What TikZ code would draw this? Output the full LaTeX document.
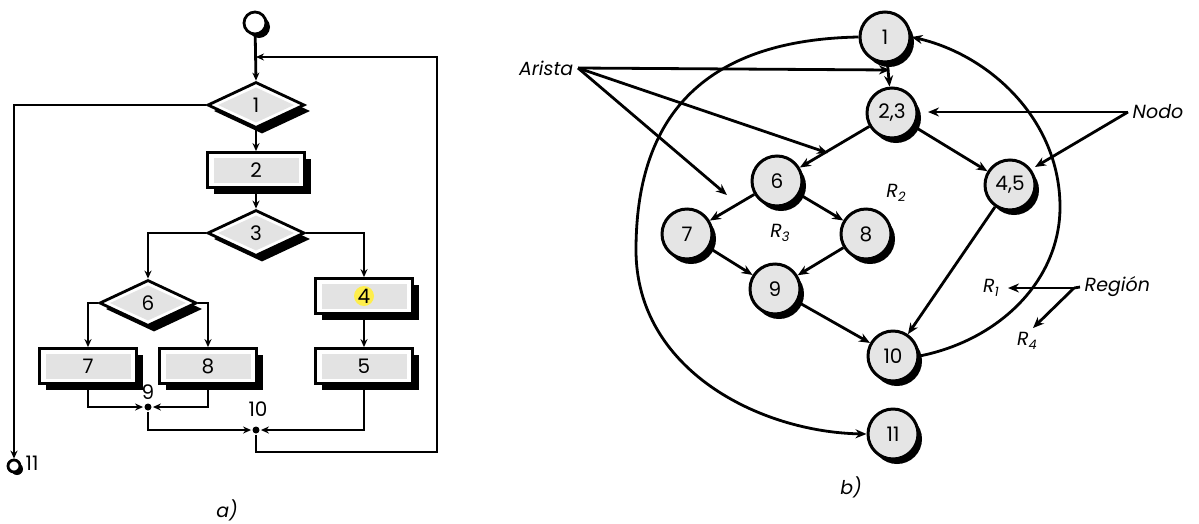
\documentclass[tikz,border=0pt]{standalone}
\usepackage{fontspec}
\setmainfont{Poppins}
\usetikzlibrary{shapes.geometric,shadows,arrows.meta,calc}

\begin{document}
\begin{tikzpicture}[x=1pt,y=-1pt,line width=2.8pt,
  arr/.style={line width=2.8pt,-{Stealth[length=8pt,width=7pt]}},
  garr/.style={line width=2.8pt,-{Stealth[length=11pt,width=9pt]}},
  shadowed/.style={drop shadow={shadow xshift=6pt,shadow yshift=-6pt,fill=black,opacity=1}},
  numfont/.style={font=\fontsize{20}{22}\selectfont},
  lblfont/.style={font=\fontsize{19}{21}\selectfont\itshape},
  flowbox/.style={rectangle,draw,line width=2.8pt,fill=white,minimum width=97pt,minimum height=35pt,
    inner sep=0pt,shadowed,numfont,
    path picture={\fill[black!11]
      ($(path picture bounding box.south west)+(6pt,5pt)$) rectangle
      ($(path picture bounding box.north east)+(-6pt,-5pt)$);}},
  hlbox/.style={flowbox,
    path picture={\fill[black!11]
      ($(path picture bounding box.south west)+(6pt,5pt)$) rectangle
      ($(path picture bounding box.north east)+(-6pt,-5pt)$);
      \fill[yellow!90!orange!70] (path picture bounding box.center) circle (10pt);}},
  flowdia/.style={diamond,draw,line width=2.8pt,fill=white,minimum width=97pt,minimum height=46pt,
    inner sep=0pt,shadowed,numfont,
    path picture={\fill[black!11]
      ($(path picture bounding box.west)+(10pt,0)$) --
      ($(path picture bounding box.north)+(0,-5pt)$) --
      ($(path picture bounding box.east)+(-10pt,0)$) --
      ($(path picture bounding box.south)+(0,5pt)$) -- cycle;}},
  termc/.style={circle,draw,line width=2.8pt,fill=white,inner sep=0pt},
  junc/.style={circle,fill=black,inner sep=0pt,minimum size=7pt},
  gnode/.style={circle,draw,line width=3pt,fill=black!10,minimum size=50pt,
    inner sep=0pt,numfont,
    drop shadow={shadow xshift=4pt,shadow yshift=-5pt,fill=black,opacity=1}}]

\useasboundingbox (0,0) rectangle (1199,523);

% ---------------- a) flowchart ----------------
\node[termc,minimum size=22pt,
  drop shadow={shadow xshift=4pt,shadow yshift=-4pt,fill=black,opacity=1}] (start) at (255,23) {};
\node[flowdia] (d1) at (256,105) {1};
\node[flowbox] (b2) at (256,170) {2};
\node[flowdia] (d3) at (256,233) {3};
\node[flowdia] (d6) at (148,303) {6};
\node[flowbox] (b7) at (88,366) {7};
\node[flowbox] (b8) at (208,366) {8};
\node[hlbox] (b4) at (364,296) {4};
\node[flowbox] (b5) at (364,366) {5};
\node[junc] (j9) at (148,407) {};
\node[junc] (j10) at (256,430) {};
\node[termc,minimum size=12pt,
  drop shadow={shadow xshift=3pt,shadow yshift=-3pt,fill=black,opacity=1}] (e11) at (14,466) {};
\coordinate (topj) at (256,57);
\coordinate (fbr) at (437,452);

\node[numfont] (l9) at (148,392) {9};
\node[numfont] (l10) at (258,409) {10};
\node[numfont,anchor=west] (l11) at (21,463) {11};
\node[lblfont] (capa) at (227,510) {a)};

\draw[arr] (start) -- (d1.north);
\draw[arr] (d1.south) -- (b2.north);
\draw[arr] (b2.south) -- (d3.north);
\draw[arr] (d1.west) -| (e11.north);
\draw[arr] (d3.west) -| (d6.north);
\draw[arr] (d3.east) -| (b4.north);
\draw[arr] (d6.west) -| (b7.north);
\draw[arr] (d6.east) -| (b8.north);
\draw[arr] (b4.south) -- (b5.north);
\draw[arr] (b7.south) |- (j9.west);
\draw[arr] (b8.south) |- (j9.east);
\draw[arr] (j9) |- (j10.west);
\draw[arr] (b5.south) |- (j10.east);
\draw[arr] (j10) |- (fbr) |- (topj);

% ---------------- b) flow graph ----------------
\node[gnode] (n1) at (885,37) {1};
\node[gnode] (n23) at (892,113) {2,3};
\node[gnode] (n6) at (777,181) {6};
\node[gnode] (n7) at (687,234) {7};
\node[gnode] (n8) at (866,234) {8};
\node[gnode] (n9) at (775,289) {9};
\node[gnode] (n45) at (1010,185) {4,5};
\node[gnode] (n10) at (893,356) {10};
\node[gnode] (n11) at (893,434) {11};

\draw[garr] (n1) -- (n23);
\draw[garr] (n23) -- (n6);
\draw[garr] (n23) -- (n45);
\draw[garr] (n6) -- (n7);
\draw[garr] (n6) -- (n8);
\draw[garr] (n7) -- (n9);
\draw[garr] (n8) -- (n9);
\draw[garr] (n9) -- (n10);
\draw[garr] (n45) -- (n10);
\draw[garr] (n10.east) .. controls (1000,340) and (1060,280) .. (1060,207)
  .. controls (1060,120) and (990,55) .. (n1.east);
\draw[garr] (n1.west) .. controls (700,40) and (636,120) .. (636,250)
  .. controls (636,370) and (760,432) .. (n11.west);

% region labels
\node[lblfont] (r1) at (991,288) {R\raisebox{-4pt}{\fontsize{13}{14}\selectfont 1}};
\node[lblfont] (r2) at (896,193) {R\raisebox{-4pt}{\fontsize{13}{14}\selectfont 2}};
\node[lblfont] (r3) at (780,233) {R\raisebox{-4pt}{\fontsize{13}{14}\selectfont 3}};
\node[lblfont] (r4) at (1027,341) {R\raisebox{-4pt}{\fontsize{13}{14}\selectfont 4}};

% annotations
\node[lblfont,anchor=east] (arista) at (578,68) {Arista};
\node[lblfont,anchor=west] (nodo) at (1128,112) {Nodo};
\node[lblfont,anchor=west] (region) at (1080,287) {Región};
\coordinate (ae1) at (890,70);
\coordinate (ae2) at (828,153);
\coordinate (ae3) at (727,195);
\coordinate (ne1) at (928,112);
\coordinate (ne2) at (1035,167);
\coordinate (re1) at (1008,288);
\coordinate (re2) at (1033,328);
\coordinate (rsrc) at (1074,288);

\draw[garr] (arista.east) -- (ae1);
\draw[garr] (arista.east) -- (ae2);
\draw[garr] (arista.east) -- (ae3);
\draw[garr] (nodo.west) -- (ne1);
\draw[garr] (nodo.west) -- (ne2);
\draw[garr] (rsrc) -- (re1);
\draw[garr] (rsrc) -- (re2);
\draw[line width=2.8pt] (region.west) -- (rsrc);

\node[lblfont] (capb) at (851,487) {b)};
\end{tikzpicture}
\end{document}
